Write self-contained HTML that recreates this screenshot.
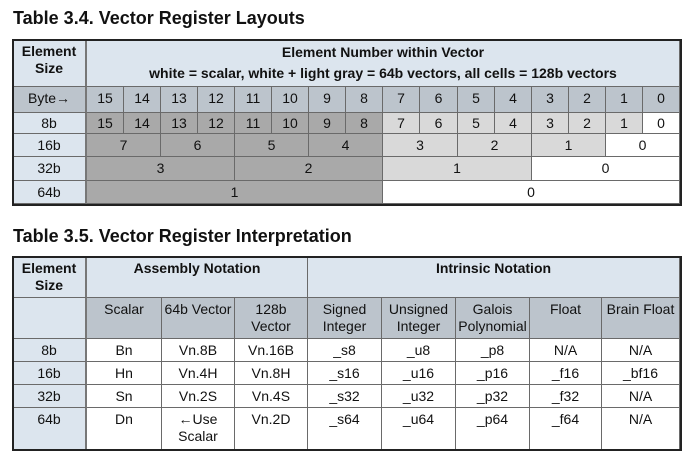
<!DOCTYPE html>
<html><head><meta charset="utf-8"><style>
body{margin:0;width:697px;height:464px;background:#fff;font-family:"Liberation Sans",sans-serif;color:#111;position:relative;overflow:hidden}
.t{position:absolute;font-weight:bold;font-size:18px;left:13px}
.c{position:absolute;box-sizing:border-box;border-right:1px solid #6a6a6a;border-bottom:1px solid #6a6a6a;font-size:14px;text-align:center;padding-top:3px;line-height:17px}
.b{font-weight:bold}
.hb{background:#dce5ee}
.g{background:#bcc4cc}
.d{background:#a9a9a9}
.l{background:#d9d9d9}
.w{background:#fff}
.box{position:absolute;border:2px solid #222;box-sizing:border-box;pointer-events:none}
</style></head><body>
<div class="t" style="top:8px">Table 3.4. Vector Register Layouts</div>
<div class="c hb b" style="left:13px;top:40px;width:74px;height:47px;border-right:2px solid #777">Element<br>Size</div>
<div class="c hb b" style="left:87px;top:40px;width:593px;height:47px;line-height:21px;padding-top:2px">Element Number within Vector<br>white = scalar, white + light gray = 64b vectors, all cells = 128b vectors</div>
<div class="c g" style="left:13px;top:87px;width:74px;height:26px;border-right:2px solid #777">Byte→</div>
<div class="c g" style="left:87px;top:87px;width:37px;height:26px">15</div>
<div class="c g" style="left:124px;top:87px;width:37px;height:26px">14</div>
<div class="c g" style="left:161px;top:87px;width:37px;height:26px">13</div>
<div class="c g" style="left:198px;top:87px;width:37px;height:26px">12</div>
<div class="c g" style="left:235px;top:87px;width:37px;height:26px">11</div>
<div class="c g" style="left:272px;top:87px;width:37px;height:26px">10</div>
<div class="c g" style="left:309px;top:87px;width:37px;height:26px">9</div>
<div class="c g" style="left:346px;top:87px;width:37px;height:26px">8</div>
<div class="c g" style="left:383px;top:87px;width:37px;height:26px">7</div>
<div class="c g" style="left:420px;top:87px;width:38px;height:26px">6</div>
<div class="c g" style="left:458px;top:87px;width:37px;height:26px">5</div>
<div class="c g" style="left:495px;top:87px;width:37px;height:26px">4</div>
<div class="c g" style="left:532px;top:87px;width:37px;height:26px">3</div>
<div class="c g" style="left:569px;top:87px;width:37px;height:26px">2</div>
<div class="c g" style="left:606px;top:87px;width:37px;height:26px">1</div>
<div class="c g" style="left:643px;top:87px;width:37px;height:26px">0</div>

<div class="c hb" style="left:13px;top:113px;width:74px;height:21px;padding-top:2px;border-right:2px solid #777">8b</div>
<div class="c d" style="left:87px;top:113px;width:37px;height:21px;padding-top:2px">15</div>
<div class="c d" style="left:124px;top:113px;width:37px;height:21px;padding-top:2px">14</div>
<div class="c d" style="left:161px;top:113px;width:37px;height:21px;padding-top:2px">13</div>
<div class="c d" style="left:198px;top:113px;width:37px;height:21px;padding-top:2px">12</div>
<div class="c d" style="left:235px;top:113px;width:37px;height:21px;padding-top:2px">11</div>
<div class="c d" style="left:272px;top:113px;width:37px;height:21px;padding-top:2px">10</div>
<div class="c d" style="left:309px;top:113px;width:37px;height:21px;padding-top:2px">9</div>
<div class="c d" style="left:346px;top:113px;width:37px;height:21px;padding-top:2px">8</div>
<div class="c l" style="left:383px;top:113px;width:37px;height:21px;padding-top:2px">7</div>
<div class="c l" style="left:420px;top:113px;width:38px;height:21px;padding-top:2px">6</div>
<div class="c l" style="left:458px;top:113px;width:37px;height:21px;padding-top:2px">5</div>
<div class="c l" style="left:495px;top:113px;width:37px;height:21px;padding-top:2px">4</div>
<div class="c l" style="left:532px;top:113px;width:37px;height:21px;padding-top:2px">3</div>
<div class="c l" style="left:569px;top:113px;width:37px;height:21px;padding-top:2px">2</div>
<div class="c l" style="left:606px;top:113px;width:37px;height:21px;padding-top:2px">1</div>
<div class="c w" style="left:643px;top:113px;width:37px;height:21px;padding-top:2px">0</div>

<div class="c hb" style="left:13px;top:134px;width:74px;height:23px;border-right:2px solid #777">16b</div>
<div class="c d" style="left:87px;top:134px;width:74px;height:23px">7</div>
<div class="c d" style="left:161px;top:134px;width:74px;height:23px">6</div>
<div class="c d" style="left:235px;top:134px;width:74px;height:23px">5</div>
<div class="c d" style="left:309px;top:134px;width:74px;height:23px">4</div>
<div class="c l" style="left:383px;top:134px;width:75px;height:23px">3</div>
<div class="c l" style="left:458px;top:134px;width:74px;height:23px">2</div>
<div class="c l" style="left:532px;top:134px;width:74px;height:23px">1</div>
<div class="c w" style="left:606px;top:134px;width:74px;height:23px">0</div>

<div class="c hb" style="left:13px;top:157px;width:74px;height:24px;border-right:2px solid #777">32b</div>
<div class="c d" style="left:87px;top:157px;width:148px;height:24px">3</div>
<div class="c d" style="left:235px;top:157px;width:148px;height:24px">2</div>
<div class="c l" style="left:383px;top:157px;width:149px;height:24px">1</div>
<div class="c w" style="left:532px;top:157px;width:148px;height:24px">0</div>

<div class="c hb" style="left:13px;top:181px;width:74px;height:23px;border-right:2px solid #777">64b</div>
<div class="c d" style="left:87px;top:181px;width:296px;height:23px">1</div>
<div class="c w" style="left:383px;top:181px;width:297px;height:23px">0</div>
<div class="box" style="left:12px;top:39px;width:670px;height:167px"></div>

<div class="t" style="top:226px">Table 3.5. Vector Register Interpretation</div>
<div class="c hb b" style="left:13px;top:257px;width:74px;height:41px;border-right:2px solid #777">Element<br>Size</div>
<div class="c hb b" style="left:87px;top:257px;width:221px;height:41px">Assembly Notation</div>
<div class="c hb b" style="left:308px;top:257px;width:372px;height:41px">Intrinsic Notation</div>

<div class="c hb" style="left:13px;top:298px;width:74px;height:41px;border-right:2px solid #777"></div>
<div class="c g" style="left:87px;top:298px;width:75px;height:41px">Scalar</div>
<div class="c g" style="left:162px;top:298px;width:73px;height:41px">64b Vector</div>
<div class="c g" style="left:235px;top:298px;width:73px;height:41px">128b<br>Vector</div>
<div class="c g" style="left:308px;top:298px;width:74px;height:41px">Signed<br>Integer</div>
<div class="c g" style="left:382px;top:298px;width:74px;height:41px">Unsigned<br>Integer</div>
<div class="c g" style="left:456px;top:298px;width:74px;height:41px">Galois<br>Polynomial</div>
<div class="c g" style="left:530px;top:298px;width:72px;height:41px">Float</div>
<div class="c g" style="left:602px;top:298px;width:78px;height:41px">Brain Float</div>

<div class="c hb" style="left:13px;top:339px;width:74px;height:23px;border-right:2px solid #777">8b</div>
<div class="c w" style="left:87px;top:339px;width:75px;height:23px">Bn</div>
<div class="c w" style="left:162px;top:339px;width:73px;height:23px">Vn.8B</div>
<div class="c w" style="left:235px;top:339px;width:73px;height:23px">Vn.16B</div>
<div class="c w" style="left:308px;top:339px;width:74px;height:23px">_s8</div>
<div class="c w" style="left:382px;top:339px;width:74px;height:23px">_u8</div>
<div class="c w" style="left:456px;top:339px;width:74px;height:23px">_p8</div>
<div class="c w" style="left:530px;top:339px;width:72px;height:23px">N/A</div>
<div class="c w" style="left:602px;top:339px;width:78px;height:23px">N/A</div>

<div class="c hb" style="left:13px;top:362px;width:74px;height:23px;border-right:2px solid #777">16b</div>
<div class="c w" style="left:87px;top:362px;width:75px;height:23px">Hn</div>
<div class="c w" style="left:162px;top:362px;width:73px;height:23px">Vn.4H</div>
<div class="c w" style="left:235px;top:362px;width:73px;height:23px">Vn.8H</div>
<div class="c w" style="left:308px;top:362px;width:74px;height:23px">_s16</div>
<div class="c w" style="left:382px;top:362px;width:74px;height:23px">_u16</div>
<div class="c w" style="left:456px;top:362px;width:74px;height:23px">_p16</div>
<div class="c w" style="left:530px;top:362px;width:72px;height:23px">_f16</div>
<div class="c w" style="left:602px;top:362px;width:78px;height:23px">_bf16</div>

<div class="c hb" style="left:13px;top:385px;width:74px;height:23px;border-right:2px solid #777">32b</div>
<div class="c w" style="left:87px;top:385px;width:75px;height:23px">Sn</div>
<div class="c w" style="left:162px;top:385px;width:73px;height:23px">Vn.2S</div>
<div class="c w" style="left:235px;top:385px;width:73px;height:23px">Vn.4S</div>
<div class="c w" style="left:308px;top:385px;width:74px;height:23px">_s32</div>
<div class="c w" style="left:382px;top:385px;width:74px;height:23px">_u32</div>
<div class="c w" style="left:456px;top:385px;width:74px;height:23px">_p32</div>
<div class="c w" style="left:530px;top:385px;width:72px;height:23px">_f32</div>
<div class="c w" style="left:602px;top:385px;width:78px;height:23px">N/A</div>

<div class="c hb" style="left:13px;top:408px;width:74px;height:42px;border-right:2px solid #777">64b</div>
<div class="c w" style="left:87px;top:408px;width:75px;height:42px">Dn</div>
<div class="c w" style="left:162px;top:408px;width:73px;height:42px">←Use<br>Scalar</div>
<div class="c w" style="left:235px;top:408px;width:73px;height:42px">Vn.2D</div>
<div class="c w" style="left:308px;top:408px;width:74px;height:42px">_s64</div>
<div class="c w" style="left:382px;top:408px;width:74px;height:42px">_u64</div>
<div class="c w" style="left:456px;top:408px;width:74px;height:42px">_p64</div>
<div class="c w" style="left:530px;top:408px;width:72px;height:42px">_f64</div>
<div class="c w" style="left:602px;top:408px;width:78px;height:42px">N/A</div>
<div class="box" style="left:12px;top:256px;width:670px;height:195px"></div>
</body></html>
